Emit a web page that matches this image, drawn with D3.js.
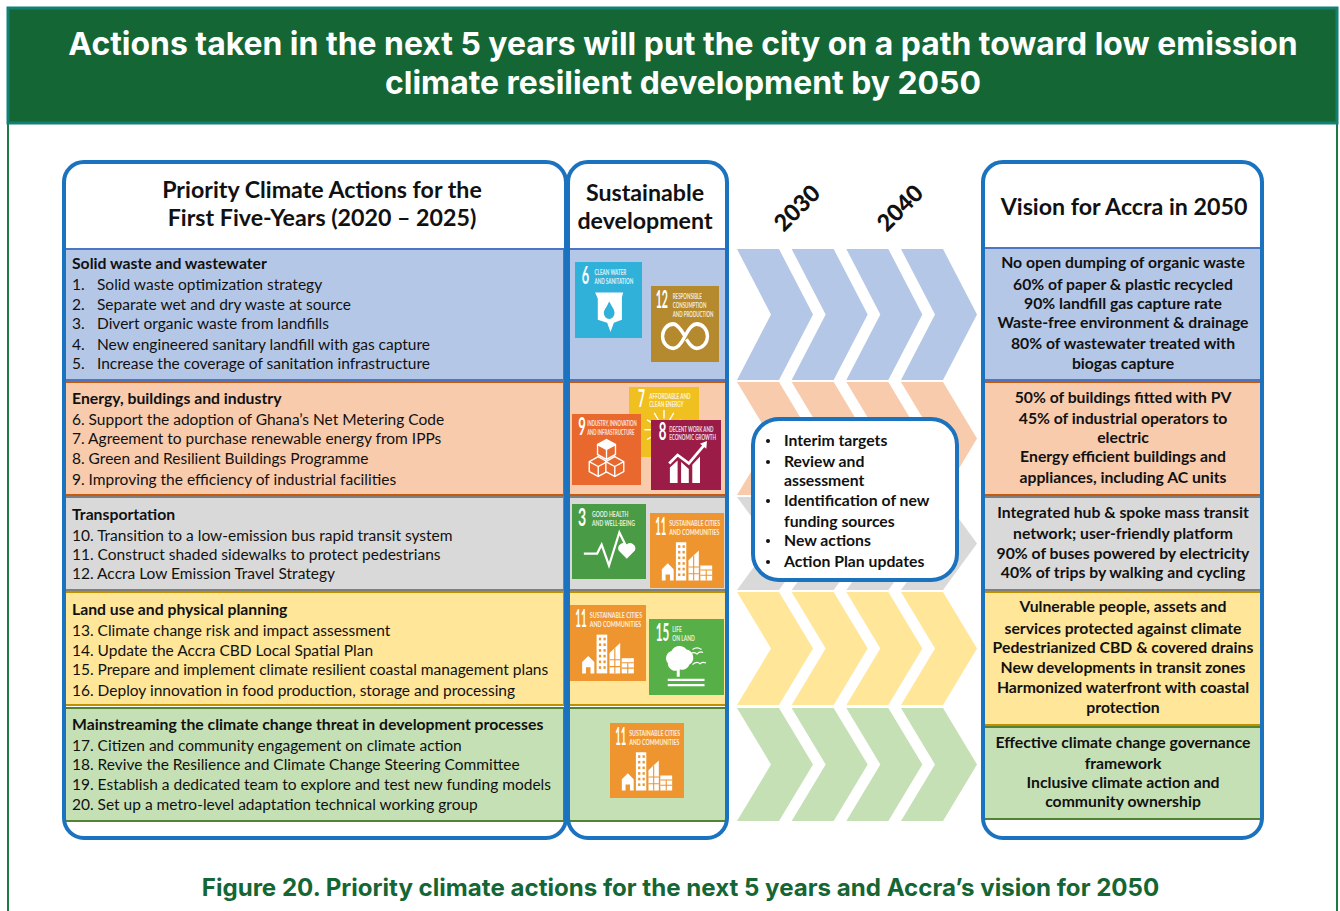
<!DOCTYPE html>
<html>
<head>
<meta charset="utf-8">
<script src="https://cdn.jsdelivr.net/npm/d3@7"></script>
<style>
  html, body { margin: 0; padding: 0; background: #fff; }
  svg { display: block; }
  text { font-family: Lato, "Open Sans", sans-serif; fill: #111; }
</style>
</head>
<body>
<div id="container"></div>
<script>
const titleLines = ["Actions taken in the next 5 years will put the city on a path toward low emission", "climate resilient development by 2050"];
const caption = "Figure 20. Priority climate actions for the next 5 years and Accra\u2019s vision for 2050";
const actionsHead = ["Priority Climate Actions for the", "First Five-Years (2020 \u2013 2025)"];
const sdgHead = ["Sustainable", "development"];
const visionHead = "Vision for Accra in 2050";
const years = ["2030", "2040"];

const sectors = ["Solid waste and wastewater", "Energy, buildings and industry", "Transportation", "Land use and physical planning", "Mainstreaming the climate change threat in development processes"];
const wasteActions = ["1. Solid waste optimization strategy", "2. Separate wet and dry waste at source", "3. Divert organic waste from landfills", "4. New engineered sanitary landfill with gas capture", "5. Increase the coverage of sanitation infrastructure"];
const energyActions = ["6. Support the adoption of Ghana\u2019s Net Metering Code", "7. Agreement to purchase renewable energy from IPPs", "8. Green and Resilient Buildings Programme", "9. Improving the efficiency of industrial facilities"];
const transportActions = ["10. Transition to a low-emission bus rapid transit system", "11. Construct shaded sidewalks to protect pedestrians", "12. Accra Low Emission Travel Strategy"];
const landActions = ["13. Climate change risk and impact assessment", "14. Update the Accra CBD Local Spatial Plan", "15. Prepare and implement climate resilient coastal management plans", "16. Deploy innovation in food production, storage and processing"];
const mainstreamActions = ["17. Citizen and community engagement on climate action", "18. Revive the Resilience and Climate Change Steering Committee", "19. Establish a dedicated team to explore and test new funding models", "20. Set up a metro-level adaptation technical working group"];
const allActions = [wasteActions, energyActions, transportActions, landActions, mainstreamActions];

const wasteVision = ["No open dumping of organic waste", "60% of paper & plastic recycled", "90% landfill gas capture rate", "Waste-free environment & drainage", "80% of wastewater treated with", "biogas capture"];
const energyVision = ["50% of buildings fitted with PV", "45% of industrial operators to", "electric", "Energy efficient buildings and", "appliances, including AC units"];
const transportVision = ["Integrated hub & spoke mass transit", "network; user-friendly platform", "90% of buses powered by electricity", "40% of trips by walking and cycling"];
const landVision = ["Vulnerable people, assets and", "services protected against climate", "Pedestrianized CBD & covered drains", "New developments in transit zones", "Harmonized waterfront with coastal", "protection"];
const mainstreamVision = ["Effective climate change governance", "framework", "Inclusive climate action and", "community ownership"];
const allVision = [wasteVision, energyVision, transportVision, landVision, mainstreamVision];

const interimItems = [["Interim targets"], ["Review and", "assessment"], ["Identification of new", "funding sources"], ["New actions"], ["Action Plan updates"]];

const sdgNumbers = [6, 12, 7, 9, 8, 3, 11, 11, 15, 11];
const sdgLabels = {
  3: ["Good health", "and well-being"],
  6: ["Clean water", "and sanitation"],
  7: ["Affordable and", "clean energy"],
  8: ["Decent work and", "economic growth"],
  9: ["Industry, innovation", "and infrastructure"],
  11: ["Sustainable cities", "and communities"],
  12: ["Responsible", "consumption", "and production"],
  15: ["Life", "on land"]
};

// colours
const rowFills = ["#b4c7e7", "#f8cbad", "#d9d9d9", "#ffe699", "#c5e0b4"];
const rowLines = ["#4a76c4", "#c55a11", "#7f7f7f", "#bf9000", "#548235"];
const sdgColors = { 3: "#4a9b46", 6: "#2fb1d9", 7: "#f0c020", 8: "#9b1d47", 9: "#e8682d", 11: "#ee9530", 12: "#b5892d", 15: "#57b047" };
const darkGreen = "#156635";
const blue = "#1b72be";

// layout
const leftRowTops = [249, 382, 497, 592, 708];
const leftRowBottoms = [380, 495, 590, 705, 821];
const rightRowTops = [248, 382, 497, 592, 727];
const rightRowBottoms = [380, 495, 590, 725, 819];
const leftLineY = [[264, 285, 305, 324, 345, 364], [399, 420, 439, 459, 480], [515, 536, 555, 574], [610, 631, 651, 670, 691], [725, 746, 765, 785, 805]];
const rightLineY = [[263, 285, 304, 323, 344, 364], [398, 419, 438, 457, 478], [513, 534, 554, 573], [607, 629, 648, 668, 688, 708], [743, 764, 783, 802]];
const interimY = [441, 462, 481, 501, 522, 541, 562];
const tileBoxes = [[575, 262, 67, 76], [651, 286, 68, 76], [629, 387, 70, 70], [572, 414, 69, 71], [651, 420, 70, 70], [572, 504, 74, 75], [650, 513, 74, 75], [570, 605, 76, 76], [649, 619, 75, 76], [610, 723, 74, 75]];
// percent of tile width: number left, number width, label left, label width
const tileText = { 3: [8, 11, 27, 58], 6: [10, 11, 29, 58], 7: [13, 10, 29, 59], 8: [11, 11, 26, 67], 9: [9, 11, 22, 72], 11: [7, 15, 26, 69], 12: [7, 18, 32, 60], 15: [9, 18, 31, 30] };

const container = d3.select("#container");
const svg = container.append("svg").attr("width", 1340).attr("height", 911);

// frame and header
svg.append("rect").attr("x", 8).attr("y", 8).attr("width", 1329).attr("height", 920)
  .attr("fill", "#fff").attr("stroke", "#1c7a45").attr("stroke-width", 2);
svg.append("rect").attr("x", 8).attr("y", 8).attr("width", 1329).attr("height", 115)
  .attr("fill", darkGreen).attr("stroke", "#128072").attr("stroke-width", 3);

const titleFont = "Inter, Lato, sans-serif";
svg.selectAll(".title").data(titleLines).join("text")
  .attr("class", "title")
  .attr("x", 683).attr("y", (d, i) => 55 + i * 38.5)
  .attr("text-anchor", "middle")
  .style("font-family", titleFont).style("font-weight", 700).style("font-size", "31.9px").style("fill", "#fff")
  .text(d => d);

svg.append("text").attr("x", 680.5).attr("y", 896)
  .attr("text-anchor", "middle")
  .style("font-family", titleFont).style("font-weight", 700).style("font-size", "24.1px").style("fill", darkGreen)
  .text(caption);

// chevrons
const colX = d3.scalePoint().domain([0, 1, 2, 3]).range([737, 901]);
const chevronLine = d3.line();
const chevronPath = (x, y0, y1) => {
  let top = 42, tip = 34, mid = (y0 + y1) / 2;
  return chevronLine([[x, y0], [x + top, y0], [x + top + tip, mid], [x + top, y1], [x, y1], [x + tip, mid]]) + "Z";
};
sectors.forEach((s, r) => {
  svg.append("g").selectAll("path").data(colX.domain()).join("path")
    .attr("d", c => chevronPath(colX(c), leftRowTops[r], leftRowBottoms[r]))
    .attr("fill", rowFills[r]);
});

// rows in both panels
let drawRows = (x, w, tops, bottoms) => {
  sectors.forEach((s, r) => {
    svg.append("rect").attr("x", x).attr("y", tops[r]).attr("width", w).attr("height", bottoms[r] - tops[r])
      .attr("fill", rowFills[r]).attr("stroke", rowLines[r]).attr("stroke-width", 2);
  });
};
drawRows(64, 500, leftRowTops, leftRowBottoms);
drawRows(568, 158, leftRowTops, leftRowBottoms);
drawRows(984, 278, rightRowTops, rightRowBottoms);

// left panel text
const bodySize = "15.5px";
const boldSize = "15.75px";
const boldDy = "0.29em";
sectors.forEach((s, r) => {
  let g = svg.append("g");
  let ys = leftLineY[r];
  g.append("text").attr("x", 72).attr("y", ys[0]).attr("dy", boldDy)
    .style("font-weight", 700).style("font-size", boldSize).text(s);
  allActions[r].forEach((line, i) => {
    if (r == 0) {
      let cut = line.indexOf(" ");
      g.append("text").attr("x", 72).attr("y", ys[i + 1]).attr("dy", "0.35em").style("font-size", bodySize).text(line.slice(0, cut));
      g.append("text").attr("x", 97).attr("y", ys[i + 1]).attr("dy", "0.35em").style("font-size", bodySize).text(line.slice(cut + 1));
    } else {
      g.append("text").attr("x", 72).attr("y", ys[i + 1]).attr("dy", "0.35em").style("font-size", bodySize).text(line);
    }
  });
});

// right panel text
sectors.forEach((s, r) => {
  svg.append("g").selectAll("text").data(allVision[r]).join("text")
    .attr("x", 1123).attr("y", (d, i) => rightLineY[r][i]).attr("dy", boldDy)
    .attr("text-anchor", "middle")
    .style("font-weight", 700).style("font-size", boldSize)
    .text(d => d);
});

// panel outlines
let panels = [[64, 162, 502, 676], [568, 162, 159, 676], [983, 162, 279, 676]];
svg.append("g").selectAll("rect").data(panels).join("rect")
  .attr("x", d => d[0]).attr("y", d => d[1]).attr("width", d => d[2]).attr("height", d => d[3])
  .attr("rx", 20).attr("fill", "none").attr("stroke", blue).attr("stroke-width", 4);

// headers
let headStyle = sel => sel.attr("text-anchor", "middle").attr("dy", "0.32em").style("font-weight", 700).style("font-size", "23.2px");
svg.selectAll(".ahead").data(actionsHead).join("text").attr("class", "ahead")
  .attr("x", 322).attr("y", (d, i) => 191 + i * 28).call(headStyle).text(d => d);
svg.selectAll(".shead").data(sdgHead).join("text").attr("class", "shead")
  .attr("x", 645).attr("y", (d, i) => 194 + i * 28).call(headStyle).text(d => d);
svg.append("text").attr("x", 1124).attr("y", 208).call(headStyle).text(visionHead);

svg.selectAll(".year").data(years).join("text").attr("class", "year")
  .attr("text-anchor", "middle").attr("dy", "0.35em")
  .attr("transform", (d, i) => `translate(${797 + i * 103},208) rotate(-45)`)
  .style("font-weight", 900).style("font-size", "23.2px")
  .text(d => d);

// SDG icons, drawn on a 100 x 100 tile
const icons = {
  6: (g, c) => {
    g.append("path").attr("d", "M30 40H72L70 46V76L58 80L53 92L48 80L34 76V48Z").attr("fill", "#fff");
    g.append("path").attr("d", "M51 52C56 60 59 63 59 67A8 8 0 0 1 43 67C43 63 47 60 51 52Z").attr("fill", c);
  },
  12: (g) => {
    g.append("path").attr("d", "M50 66C44 57 38 50 33 50A16 16 0 0 0 33 82C39 82 45 75 50 66C55 57 61 50 67 50A16 16 0 0 1 67 82C61 82 56 76 52 70")
      .attr("fill", "none").attr("stroke", "#fff").attr("stroke-width", 5);
  },
  7: (g) => {
    g.append("circle").attr("cx", 50).attr("cy", 61).attr("r", 12).attr("fill", "#fff");
    d3.range(12).forEach(i => {
      let a = i * Math.PI / 6;
      g.append("line").attr("x1", 50 + 16 * Math.cos(a)).attr("y1", 61 + 16 * Math.sin(a))
        .attr("x2", 50 + 28 * Math.cos(a)).attr("y2", 61 + 28 * Math.sin(a))
        .attr("stroke", "#fff").attr("stroke-width", 2);
    });
  },
  9: (g, c) => {
    [[38, 72], [62, 72], [50, 48]].forEach((p, i) => {
      let x = p[0], y = p[1];
      g.append("path").attr("d", `M${x} ${y - 12}L${x + 13} ${y - 5}V${y + 9}L${x} ${y + 16}L${x - 13} ${y + 9}V${y - 5}Z`)
        .attr("fill", c).attr("stroke", "#fff").attr("stroke-width", 2);
      g.append("path").attr("d", `M${x - 13} ${y - 5}L${x} ${y + 2}L${x + 13} ${y - 5}M${x} ${y + 2}V${y + 16}`)
        .attr("fill", "none").attr("stroke", "#fff").attr("stroke-width", 2);
      if (i == 2) g.append("path").attr("d", `M${x} ${y - 12}L${x + 13} ${y - 5}L${x} ${y + 2}L${x - 13} ${y - 5}Z`).attr("fill", "#fff");
    });
  },
  8: (g) => {
    g.append("path").attr("d", "M27 90V68L38 58V90ZM43 90V60L54 70V90ZM59 90V64L70 52V90Z").attr("fill", "#fff");
    g.append("path").attr("d", "M26 62L38 50L54 62L76 36").attr("fill", "none").attr("stroke", "#fff").attr("stroke-width", 4);
    g.append("path").attr("d", "M70 34L80 30L79 41Z").attr("fill", "#fff");
  },
  3: (g) => {
    g.append("path").attr("d", "M16 66H34L40 54L50 82L64 38L73 56").attr("fill", "none").attr("stroke", "#fff").attr("stroke-width", 3);
    g.append("path").attr("d", "M74 73L63 62A7 7 0 0 1 74 54A7 7 0 0 1 85 62Z").attr("fill", "#fff");
  },
  11: (g, c) => {
    g.append("path").attr("d", "M16 90V75L24 67L32 75V90H27V82H21V90Z").attr("fill", "#fff");
    g.append("rect").attr("x", 35).attr("y", 39).attr("width", 14).attr("height", 51).attr("fill", "#fff");
    d3.range(6).forEach(i => {
      [38, 44].forEach(x => g.append("rect").attr("x", x).attr("y", 43 + i * 7.5).attr("width", 3).attr("height", 3.5).attr("fill", c));
    });
    g.append("path").attr("d", "M52 90V63L66 50V90Z").attr("fill", "#fff");
    g.append("path").attr("d", "M52 72H66M52 81H66M59 57V90").attr("stroke", c).attr("stroke-width", 1.5);
    g.append("rect").attr("x", 68).attr("y", 70).attr("width", 16).attr("height", 20).attr("fill", "#fff");
    g.append("path").attr("d", "M68 76H84M68 83H84M76 76V90").attr("stroke", c).attr("stroke-width", 1.5);
  },
  15: (g) => {
    g.append("path").attr("d", "M25 58A10 10 0 0 1 30 42A12 12 0 0 1 50 40A11 11 0 0 1 54 60A10 10 0 0 1 41 66A10 10 0 0 1 25 58Z").attr("fill", "#fff");
    g.append("rect").attr("x", 37).attr("y", 62).attr("width", 4).attr("height", 14).attr("fill", "#fff");
    g.append("path").attr("d", "M52 48Q58 42 64 46Q68 42 72 44M58 40Q64 36 70 40M58 60Q64 55 68 59Q72 56 76 58").attr("fill", "none").attr("stroke", "#fff").attr("stroke-width", 1.6);
    g.append("path").attr("d", "M25 80H74M25 87H74").attr("stroke", "#fff").attr("stroke-width", 3);
  }
};

let tiles = svg.append("g").selectAll("g").data(sdgNumbers).join("g")
  .attr("transform", (d, i) => `translate(${tileBoxes[i][0]},${tileBoxes[i][1]})`);

const narrowFont = "'Liberation Sans Narrow', Lato, sans-serif";
tiles.each(function (num, i) {
  let g = d3.select(this);
  let w = tileBoxes[i][2], h = tileBoxes[i][3];
  let sx = d3.scaleLinear().domain([0, 100]).range([0, w]);
  let sy = d3.scaleLinear().domain([0, 100]).range([0, h]);
  let t = tileText[num];
  g.append("rect").attr("width", w).attr("height", h).attr("fill", sdgColors[num]);

  // number squeezed by transform to the width it has on the real tile
  let numText = g.append("text")
    .style("font-family", narrowFont).style("font-weight", 700).style("font-size", "25px").style("fill", "#fff")
    .text(num);
  let numScale = sx(t[1]) / numText.node().getComputedTextLength();
  numText.attr("transform", `translate(${sx(t[0])},${sy(29)}) scale(${numScale},1)`);

  // same for the labels, so the longest line fits
  let labels = g.selectAll(".lab").data(sdgLabels[num]).join("text").attr("class", "lab")
    .style("font-family", narrowFont).style("font-weight", 700).style("font-size", "7px").style("fill", "#fff").style("opacity", 0.85)
    .text(d => d.toUpperCase());
  let longest = d3.max(labels.nodes(), n => n.getComputedTextLength());
  labels.attr("transform", (d, j) => `translate(${sx(t[2])},${sy(17) + j * sy(12)}) scale(${sx(t[3]) / longest},1)`);

  let icon = g.append("g").attr("transform", `scale(${w / 100},${h / 100})`);
  icons[num](icon, sdgColors[num]);
});

// interim box
svg.append("rect").attr("x", 753).attr("y", 419).attr("width", 204).attr("height", 161).attr("rx", 26)
  .attr("fill", "#fff").attr("stroke", blue).attr("stroke-width", 4);
let lineIdx = 0;
interimItems.forEach(item => {
  item.forEach((line, j) => {
    let y = interimY[lineIdx++];
    if (j == 0) svg.append("circle").attr("cx", 768).attr("cy", y).attr("r", 2).attr("fill", "#111");
    svg.append("text").attr("x", 784).attr("y", y).attr("dy", boldDy)
      .style("font-weight", 700).style("font-size", boldSize).text(line);
  });
});
</script>
</body>
</html>
